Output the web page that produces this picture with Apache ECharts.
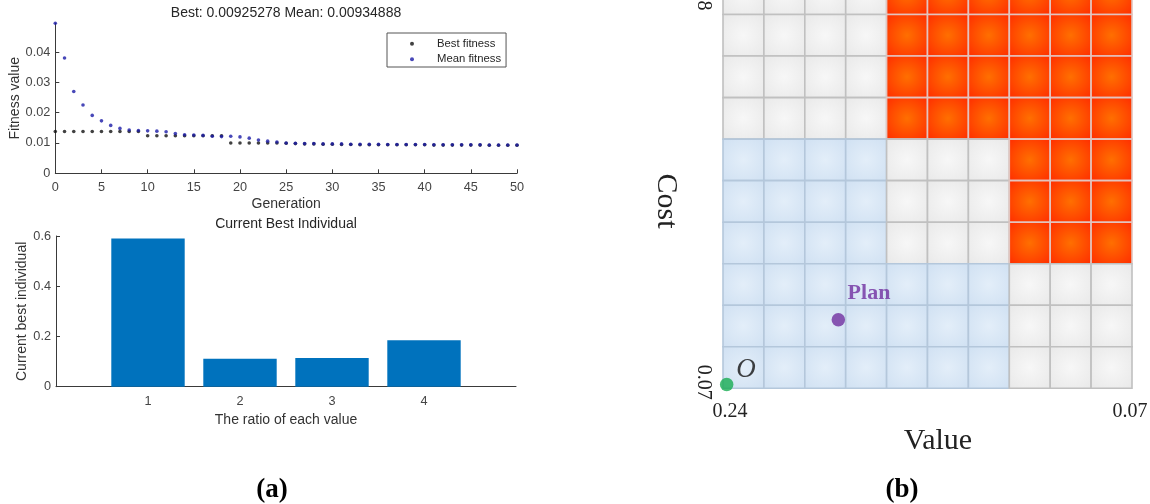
<!DOCTYPE html>
<html>
<head>
<meta charset="utf-8">
<script src="https://cdn.jsdelivr.net/npm/echarts@6/dist/echarts.min.js"></script>
<style>
  html, body { margin: 0; padding: 0; background: #fff; }
  #chart { width: 1150px; height: 504px; }
</style>
</head>
<body>
<div id="chart"></div>
<script>
// (a) genetic algorithm progress: one entry per generation 0..50
const meanFitness = [
  0.0495, 0.0380, 0.0270, 0.0225, 0.0191, 0.0173, 0.0158, 0.0148, 0.0143, 0.0141,
  0.0140, 0.0139, 0.0137, 0.0131, 0.0127, 0.0126, 0.0125, 0.0122, 0.0121, 0.0122,
  0.0120, 0.0116, 0.0110, 0.0106, 0.0103, 0.0100, 0.0099, 0.0098, 0.0098, 0.0097,
  0.0097, 0.0097, 0.0096, 0.0096, 0.0096, 0.0096, 0.0095, 0.0095, 0.0095, 0.0095,
  0.0095, 0.0094, 0.0094, 0.0094, 0.0094, 0.0094, 0.0094, 0.00935, 0.00935, 0.00935,
  0.00935
];
const bestFitness = [
  0.0138, 0.0138, 0.0138, 0.0138, 0.0138, 0.0138, 0.0138, 0.0138, 0.0138, 0.0138,
  0.0124, 0.0124, 0.0124, 0.0124, 0.0124, 0.0124, 0.0124, 0.0124, 0.0124, 0.0100,
  0.0100, 0.0100, 0.0100, 0.0100, 0.0100, 0.0099, 0.0098, 0.0097, 0.0097, 0.0096,
  0.0096, 0.0095, 0.0095, 0.0094, 0.0094, 0.0094, 0.0094, 0.0094, 0.0094, 0.0094,
  0.0094, 0.0093, 0.0093, 0.0093, 0.0093, 0.0093, 0.0093, 0.00925, 0.00925, 0.00925,
  0.00925
];
const fitnessTicks = [0, 0.01, 0.02, 0.03, 0.04];

// (a) current best individual
const ratioLabels = ['1', '2', '3', '4'];
const bestIndividual = [0.59, 0.111, 0.114, 0.185];
const individualTicks = [0, 0.2, 0.4, 0.6];

// (b) value/cost grid, rows listed top to bottom
// G = neutral, B = feasible (blue), R = rejected (red)
const regionRows = [
  'GGGGRRRRRR',
  'GGGGRRRRRR',
  'GGGGRRRRRR',
  'GGGGRRRRRR',
  'BBBBGGGRRR',
  'BBBBGGGRRR',
  'BBBBGGGRRR',
  'BBBBBBBGGG',
  'BBBBBBBGGG',
  'BBBBBBBGGG'
];
const valueTicks = ['0.24', '0.07'];
const costTicks = ['0.07', '0.58'];
const originPoint = [0.09, 0.09];
const planPoint = [2.82, 1.65];

const SANS = 'Liberation Sans';
const SERIF = 'Liberation Serif';
const AX = '#3a3a3a';
const TXT = '#454545';

const regionKinds = ['G', 'B', 'R'];
const cellLook = {
  G: { inner: '#f7f7f7', outer: '#e8e8e8', stroke: '#c0c0c0' },
  B: { inner: '#e3eef9', outer: '#cfe0f2', stroke: '#b4c7db' },
  R: { inner: '#ff6f00', outer: '#ff2a00', stroke: '#e2c4be' }
};

const nRows = regionRows.length;
const nCols = regionRows[0].length;
const cellData = [];
regionRows.forEach((row, i) => {
  row.split('').forEach((k, c) => {
    cellData.push([c, nRows - 1 - i, regionKinds.indexOf(k)]);
  });
});

const chart = echarts.init(document.getElementById('chart'), null, { renderer: 'canvas' });

const tickFont = { fontFamily: SANS, fontSize: 12.7, color: TXT };
const nameFont = { fontFamily: SANS, fontSize: 14, color: '#333' };

const option = {
  animation: false,
  backgroundColor: '#fff',
  title: [
    {
      text: 'Best: 0.00925278 Mean: 0.00934888',
      left: 286, top: 6, textAlign: 'center', padding: 0,
      textStyle: { fontFamily: SANS, fontSize: 14, fontWeight: 'normal', color: '#262626' }
    },
    {
      text: 'Current Best Individual',
      left: 286, top: 217, textAlign: 'center', padding: 0,
      textStyle: { fontFamily: SANS, fontSize: 14, fontWeight: 'normal', color: '#262626' }
    }
  ],
  legend: {
    data: ['Best fitness', 'Mean fitness'],
    orient: 'vertical',
    left: 387, top: 33,
    padding: [4, 5, 1, 23],
    itemWidth: 4, itemHeight: 4, itemGap: 2,
    icon: 'circle',
    borderColor: '#555', borderWidth: 1,
    textStyle: {
      fontFamily: SANS, fontSize: 11.3, color: '#262626', lineHeight: 13.5,
      padding: [0, 0, 0, 18]
    }
  },
  grid: [
    { left: 55.3, top: 23.2, width: 461.7, height: 150.1, outerBoundsMode: 'none' },
    { left: 56, top: 236, width: 460, height: 150.7, outerBoundsMode: 'none' },
    { left: 723, top: -27, width: 409, height: 415.3, outerBoundsMode: 'none' }
  ],
  xAxis: [
    {
      gridIndex: 0, type: 'value', min: 0, max: 50, interval: 5,
      axisLine: { lineStyle: { color: AX } },
      axisTick: { inside: true, length: 4, lineStyle: { color: AX } },
      splitLine: { show: false },
      axisLabel: Object.assign({ margin: 8 }, tickFont),
      name: 'Generation', nameLocation: 'middle', nameGap: 24, nameTextStyle: nameFont
    },
    {
      gridIndex: 1, type: 'value', min: 0, max: 5,
      axisLine: { lineStyle: { color: AX } },
      axisTick: { inside: true, length: 4, lineStyle: { color: AX }, customValues: [1, 2, 3, 4] },
      splitLine: { show: false },
      axisLabel: Object.assign({
        margin: 8, customValues: [1, 2, 3, 4],
        formatter: v => ratioLabels[Math.round(v) - 1]
      }, tickFont),
      name: 'The ratio of each value', nameLocation: 'middle', nameGap: 26, nameTextStyle: nameFont
    },
    {
      gridIndex: 2, type: 'value', min: 0, max: nCols,
      axisLine: { show: false }, axisTick: { show: false }, splitLine: { show: false },
      axisLabel: {
        customValues: [0, nCols], margin: 13,
        formatter: v => (v === 0 ? '{a|' + valueTicks[0] + '}' : '{b|' + valueTicks[1] + '}'),
        fontFamily: SERIF, fontSize: 20, color: '#222',
        rich: {
          a: { fontFamily: SERIF, fontSize: 20, color: '#222', padding: [0, 0, 0, 14] },
          b: { fontFamily: SERIF, fontSize: 20, color: '#222', padding: [0, 4, 0, 0] }
        }
      }
    }
  ],
  yAxis: [
    {
      gridIndex: 0, type: 'value', min: 0, max: 0.0495,
      axisLine: { show: true, lineStyle: { color: AX } },
      axisTick: { show: true, inside: true, length: 4, lineStyle: { color: AX }, customValues: fitnessTicks },
      splitLine: { show: false },
      axisLabel: Object.assign({ margin: 5, customValues: fitnessTicks }, tickFont),
      name: 'Fitness value', nameLocation: 'middle', nameGap: 33, nameTextStyle: nameFont
    },
    {
      gridIndex: 1, type: 'value', min: 0, max: 0.6,
      axisLine: { show: true, lineStyle: { color: AX } },
      axisTick: { show: true, inside: true, length: 4, lineStyle: { color: AX }, customValues: individualTicks },
      splitLine: { show: false },
      axisLabel: Object.assign({ margin: 5, customValues: individualTicks }, tickFont),
      name: 'Current best individual', nameLocation: 'middle', nameGap: 26, nameTextStyle: nameFont
    },
    {
      gridIndex: 2, type: 'value', min: 0, max: nRows,
      axisLine: { show: false }, axisTick: { show: false }, splitLine: { show: false },
      axisLabel: {
        customValues: [0, nRows], margin: 10, rotate: -90,
        formatter: v => (v === 0 ? '{lo|' + costTicks[0] + '}' : '{hi|' + costTicks[1] + '}'),
        fontFamily: SERIF, fontSize: 20, color: '#222',
        rich: {
          lo: { fontFamily: SERIF, fontSize: 20, color: '#222', padding: [0, 12, 0, 0] },
          hi: { fontFamily: SERIF, fontSize: 20, color: '#222', padding: [0, 0, 0, 40] }
        }
      }
    }
  ],
  series: [
    {
      name: 'Best fitness', type: 'scatter', xAxisIndex: 0, yAxisIndex: 0,
      symbolSize: 3.6, itemStyle: { color: '#111' },
      data: bestFitness.map((v, g) => [g, v])
    },
    {
      name: 'Mean fitness', type: 'scatter', xAxisIndex: 0, yAxisIndex: 0,
      symbolSize: 3.6, itemStyle: { color: '#1a1aa6' },
      data: meanFitness.map((v, g) => [g, v])
    },
    {
      name: 'Current best individual', type: 'bar', xAxisIndex: 1, yAxisIndex: 1,
      barWidth: 73.4, itemStyle: { color: '#0072bd' },
      data: bestIndividual.map((v, i) => [i + 1, v])
    },
    {
      name: 'Cells', type: 'custom', xAxisIndex: 2, yAxisIndex: 2,
      data: cellData,
      renderItem: function (params, api) {
        const c = api.value(0), r = api.value(1);
        const look = cellLook[regionKinds[api.value(2)]];
        const p0 = api.coord([c, r + 1]);
        const p1 = api.coord([c + 1, r]);
        return {
          type: 'rect',
          shape: { x: p0[0], y: p0[1], width: p1[0] - p0[0], height: p1[1] - p0[1] },
          style: {
            fill: new echarts.graphic.RadialGradient(0.5, 0.5, 0.72, [
              { offset: 0, color: look.inner },
              { offset: 1, color: look.outer }
            ]),
            stroke: look.stroke,
            lineWidth: 1.6
          }
        };
      }
    },
    {
      name: 'Points', type: 'scatter', xAxisIndex: 2, yAxisIndex: 2,
      symbolSize: 13.5, z: 5,
      data: [
        {
          value: originPoint,
          itemStyle: { color: '#18ad52' },
          label: {
            show: true, formatter: 'O', position: [26, -8], align: 'center', verticalAlign: 'middle',
            fontFamily: SERIF, fontStyle: 'italic', fontSize: 27, color: '#111'
          }
        },
        {
          value: planPoint,
          itemStyle: { color: '#7030a0' },
          label: {
            show: true, formatter: 'Plan', position: [16, -20], align: 'left', verticalAlign: 'middle',
            fontFamily: SERIF, fontWeight: 'bold', fontSize: 22, color: '#7030a0'
          }
        }
      ]
    }
  ],
  graphic: [
    {
      type: 'text', x: 666, y: 201, rotation: -Math.PI / 2,
      style: { text: 'Cost', font: '30px "Liberation Serif"', fill: '#222', align: 'center', verticalAlign: 'middle' }
    },
    {
      type: 'text', x: 938, y: 441,
      style: { text: 'Value', font: '30px "Liberation Serif"', fill: '#222', align: 'center', verticalAlign: 'middle' }
    },
    {
      type: 'text', x: 272, y: 490,
      style: { text: '(a)', font: 'bold 27px "Liberation Serif"', fill: '#000', align: 'center', verticalAlign: 'middle' }
    },
    {
      type: 'text', x: 902, y: 490,
      style: { text: '(b)', font: 'bold 27px "Liberation Serif"', fill: '#000', align: 'center', verticalAlign: 'middle' }
    }
  ]
};

chart.setOption(option);
</script>
</body>
</html>
